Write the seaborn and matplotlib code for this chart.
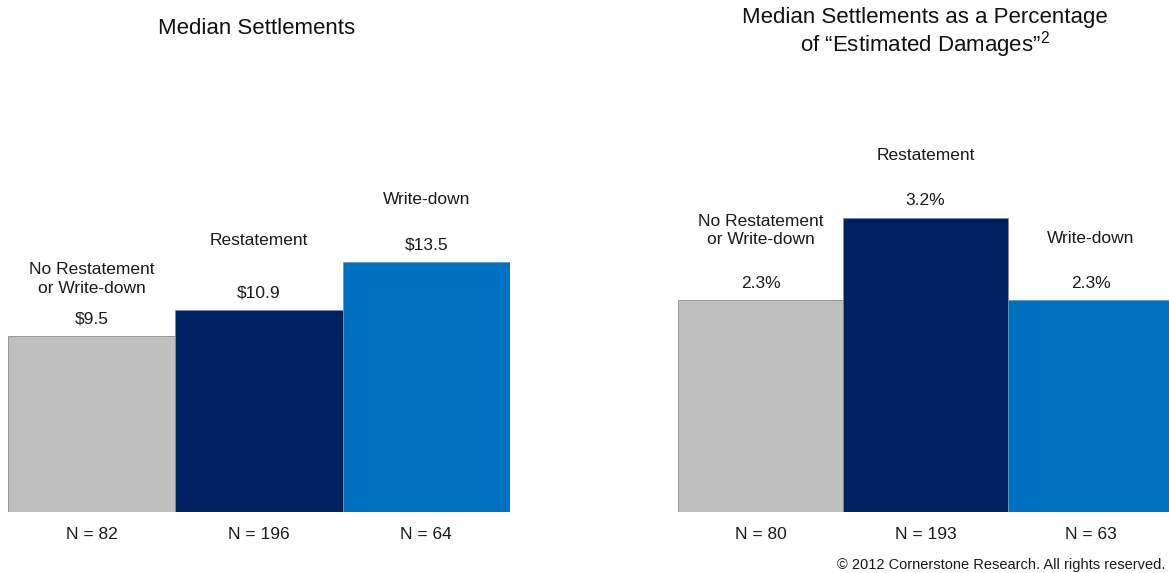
import matplotlib
matplotlib.use("Agg")
import matplotlib.pyplot as plt
import seaborn as sns
import pandas as pd

categories = ["No Restatement\nor Write-down", "Restatement", "Write-down"]
settlements = [9.5, 10.9, 13.5]
settlement_labels = ["$9.5", "$10.9", "$13.5"]
settlement_n = ["N = 82", "N = 196", "N = 64"]
pct_damages = [2.3, 3.2, 2.3]
pct_labels = ["2.3%", "3.2%", "2.3%"]
pct_n = ["N = 80", "N = 193", "N = 63"]

colors = ["#BFBFBF", "#002060", "#0070C0"]

sns.set_theme(style="white")
plt.rcParams["font.family"] = ["Liberation Sans", "DejaVu Sans"]
plt.rcParams["mathtext.fontset"] = "custom"
plt.rcParams["mathtext.rm"] = "Liberation Sans"
plt.rcParams["mathtext.default"] = "rm"

W, H = 1169, 573
fig = plt.figure(figsize=(W / 100, H / 100), dpi=100)

def px_axes(x0, x1, y_top, y_base):
    return fig.add_axes([x0 / W, 1 - y_base / H, (x1 - x0) / W, (y_base - y_top) / H])

ax1 = px_axes(8, 510, 100, 512)
ax2 = px_axes(678, 1173, 100, 512)

FS = 12.5

def draw(ax, values, vlabels, nlabels, ymax, cat_off_px):
    df = pd.DataFrame({"cat": categories, "val": values})
    sns.barplot(data=df, x="cat", y="val", hue="cat", palette=colors, width=1.0,
                legend=False, ax=ax, edgecolor="#8C8C8C", linewidth=0.6,
                saturation=1)
    ax.set_xlim(-0.5, 2.5)
    ax.set_ylim(0, ymax)
    ax.set_xlabel("")
    ax.set_ylabel("")
    ax.set_yticks([])
    ax.set_xticks(range(3))
    ax.set_xticklabels(nlabels, fontsize=FS, color="#1a1a1a")
    ax.tick_params(axis="x", length=0, pad=11)
    for s in ax.spines.values():
        s.set_visible(False)
    for i, (v, lab) in enumerate(zip(values, vlabels)):
        ax.annotate(lab, (i, v), xytext=(0, 17 * 0.72), textcoords="offset points",
                    ha="center", va="center", fontsize=FS, color="#1a1a1a")
        ax.annotate(categories[i], (i, v), xytext=(0, cat_off_px[i] * 0.72),
                    textcoords="offset points", ha="center", va="center",
                    fontsize=FS, color="#1a1a1a", linespacing=1.3)

draw(ax1, settlements, settlement_labels, settlement_n, 412 / 18.55, [57, 69, 62])
draw(ax2, pct_damages, pct_labels, pct_n, 412 / 92.0, [70, 62, 62])

fig.text(257 / W, 1 - 28 / H, "Median Settlements", ha="center", va="center",
         fontsize=16, color="#111111")
fig.text(925 / W, 1 - 17 / H, "Median Settlements as a Percentage",
         ha="center", va="center", fontsize=16, color="#111111")
fig.text(925 / W, 1 - 45 / H, "of \u201cEstimated Damages\u201d$^{2}$",
         ha="center", va="center", fontsize=16, color="#111111")
fig.text(1165 / W, 1 - 565 / H, "\u00a9 2012 Cornerstone Research. All rights reserved.",
         ha="right", va="center", fontsize=10.5, color="#1a1a1a")

fig.savefig("out.png", dpi=100)
